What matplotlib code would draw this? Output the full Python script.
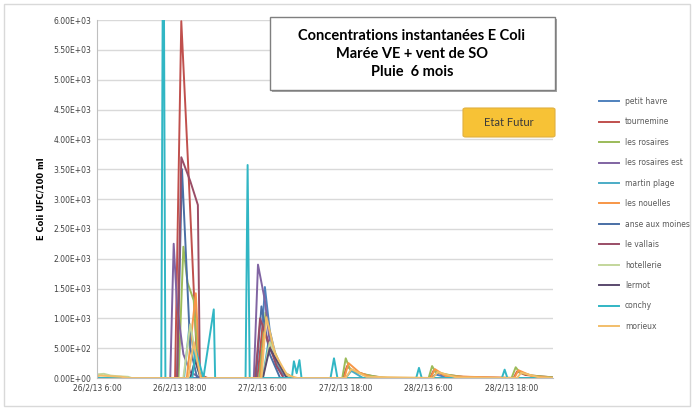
import matplotlib.pyplot as plt
from matplotlib.patches import Rectangle, FancyBboxPatch

# hours since 26/2/13 6:00, E. coli UFC/100 ml
petit_havre_t = [0, 23.5, 24.3, 25.0, 26.0, 27.0, 28.0, 48.4, 49.0, 51.0, 66]
petit_havre_v = [0, 0, 1525, 800, 300, 80, 0, 0, 60, 0, 0]

tournemine_t = [0, 11.3, 12.2, 13.3, 14.5, 15.0, 16.0, 23.2, 24.0, 25.0, 26.5, 28.0,
                35.6, 36.2, 37.0, 39.0, 41.5, 48.2, 48.7, 50.0, 53.0, 60.3, 60.8, 62.0, 66]
tournemine_v = [0, 0, 5980, 3300, 200, 50, 0, 0, 900, 500, 150, 0,
                0, 200, 120, 50, 0, 0, 120, 60, 20, 0, 110, 50, 10]

les_rosaires_t = [0, 11.8, 12.5, 13.1, 14.0, 14.6, 15.2, 23.5, 24.4, 25.5, 27.0, 28.5,
                  35.5, 36.0, 36.6, 38.0, 40.0, 42.0, 48.0, 48.5, 49.0, 51.0, 54.0,
                  60.0, 60.6, 61.2, 63.0, 66]
les_rosaires_v = [0, 0, 2200, 1600, 1300, 300, 0, 0, 1100, 500, 100, 0,
                  0, 330, 150, 80, 30, 0, 0, 200, 100, 50, 0,
                  0, 180, 90, 40, 10]

rosaires_est_t = [0, 10.6, 11.1, 11.6, 12.5, 13.5, 15.0, 22.7, 23.3, 24.3, 25.0, 26.0, 27.0, 28.0, 66]
rosaires_est_v = [0, 0, 2250, 1200, 400, 100, 0, 0, 1900, 1300, 600, 200, 50, 0, 0]

martin_plage_t = [0, 12.6, 13.4, 14.2, 15.0, 24.0, 24.8, 26.0, 27.5, 36.0, 36.8, 38.5, 66]
martin_plage_v = [0, 0, 900, 300, 0, 0, 600, 250, 0, 0, 120, 0, 0]

les_nouelles_t = [0, 13.0, 14.3, 14.8, 15.2, 23.7, 24.2, 25.5, 27.0, 28.5,
                  35.8, 36.4, 38.0, 40.0, 48.3, 48.9, 50.5, 60.4, 61.0, 63.0, 66]
les_nouelles_v = [0, 0, 1420, 200, 0, 0, 750, 400, 100, 0,
                  0, 250, 90, 0, 0, 150, 30, 0, 130, 30, 0]

anse_moines_t = [0, 11.6, 12.3, 13.5, 14.5, 23.0, 23.8, 25.0, 26.5, 66]
anse_moines_v = [0, 0, 3500, 500, 0, 0, 1200, 400, 0, 0]

le_vallais_t = [0, 11.6, 12.2, 13.5, 14.6, 14.9, 22.9, 23.6, 24.5, 26.0, 27.0, 66]
le_vallais_v = [0, 0, 3700, 3300, 2900, 0, 0, 1000, 700, 200, 0, 0]

hotellerie_t = [0, 1.0, 2.0, 3.0, 4.5, 5.0, 12.5, 13.5, 14.5, 15.5, 24.0, 25.0, 26.5, 28.0, 66]
hotellerie_v = [60, 70, 40, 30, 20, 0, 0, 900, 250, 0, 0, 600, 200, 0, 0]

lermot_t = [0, 13.5, 14.2, 15.0, 24.0, 25.0, 26.0, 27.5, 66]
lermot_v = [0, 0, 300, 0, 0, 500, 300, 0, 0]

conchy_t = [0, 9.3, 9.6, 9.9, 13.8, 14.3, 15.4, 16.9, 17.1, 21.5, 21.8, 22.1,
            28.2, 28.5, 28.9, 29.3, 29.6, 33.8, 34.3, 34.8, 46.2, 46.6, 47.0,
            58.6, 59.0, 59.4, 66]
conchy_v = [0, 0, 9000, 0, 0, 470, 0, 1150, 0, 0, 3570, 0,
            0, 280, 80, 300, 0, 0, 330, 0, 0, 170, 0,
            0, 140, 0, 0]

morieux_t = [0, 0.5, 2.0, 3.5, 4.5, 13.2, 14.0, 15.0, 23.8, 24.5, 25.8, 27.5, 29.0,
             36.0, 36.8, 39.0, 48.6, 49.3, 52.0, 60.8, 61.4, 64.0, 66]
morieux_v = [30, 40, 30, 20, 0, 0, 600, 0, 0, 1020, 400, 50, 0,
             0, 150, 20, 0, 100, 10, 0, 90, 10, 0]

series = [
    ("petit havre", petit_havre_t, petit_havre_v, "#4F81BD"),
    ("tournemine", tournemine_t, tournemine_v, "#C0504D"),
    ("les rosaires", les_rosaires_t, les_rosaires_v, "#9BBB59"),
    ("les rosaires est", rosaires_est_t, rosaires_est_v, "#8064A2"),
    ("martin plage", martin_plage_t, martin_plage_v, "#4BACC6"),
    ("les nouelles", les_nouelles_t, les_nouelles_v, "#F79646"),
    ("anse aux moines", anse_moines_t, anse_moines_v, "#4A6FA5"),
    ("le vallais", le_vallais_t, le_vallais_v, "#9A4D66"),
    ("hotellerie", hotellerie_t, hotellerie_v, "#C3D69B"),
    ("lermot", lermot_t, lermot_v, "#5A4A6E"),
    ("conchy", conchy_t, conchy_v, "#31B6C4"),
    ("morieux", morieux_t, morieux_v, "#F2BE6A"),
]

tick_hours = [0, 12, 24, 36, 48, 60]
tick_labels = ["26/2/13 6:00", "26/2/13 18:00", "27/2/13 6:00",
               "27/2/13 18:00", "28/2/13 6:00", "28/2/13 18:00"]
y_ticks = list(range(0, 6001, 500))

fig = plt.figure(figsize=(6.94, 4.09), dpi=100)
ax = fig.add_axes([97/694, 1 - 378/409, (553-97)/694, (378-20)/409])

for name, t, v, c in series:
    ax.plot(t, v, color=c, lw=1.4, label=name, clip_on=True)

ax.set_xlim(0, 66)
ax.set_ylim(0, 6000)
ax.set_yticks(y_ticks)
ax.set_yticklabels(["%.2E" % y for y in y_ticks], fontsize=5.5, color="#404040")
ax.set_xticks(tick_hours)
ax.set_xticklabels(tick_labels, fontsize=5.5, color="#404040")
ax.tick_params(length=0, pad=4)
ax.grid(axis="y", color="#D9D9D9", lw=1)
ax.set_axisbelow(True)
for s in ["top", "right"]:
    ax.spines[s].set_visible(False)
ax.spines["left"].set_color("#BFBFBF")
ax.spines["bottom"].set_color("#BFBFBF")
ax.set_ylabel("E Coli UFC/100 ml", fontsize=6, fontweight="bold", labelpad=6)

# legend on the right
fig.legend(loc="upper left", bbox_to_anchor=(592/694, 1 - 90/409), frameon=False,
           fontsize=5.5, handlelength=2.6, labelspacing=1.5, labelcolor="#595959")

# title box
fig.patches.append(Rectangle((272/694, 1 - 92/409), 285/694, 73/409, transform=fig.transFigure,
                             facecolor="#A6A6A6", edgecolor="none", zorder=4))
fig.patches.append(Rectangle((270/694, 1 - 90/409), 285/694, 73/409, transform=fig.transFigure,
                             facecolor="white", edgecolor="#7F7F7F", lw=1, zorder=5))
fig.text(412/694, 1 - 54/409, "Concentrations instantanées E Coli\nMarée VE + vent de SO\nPluie  6 mois",
         ha="center", va="center", fontsize=10.5, fontweight="bold", family="Lato",
         linespacing=1.35, zorder=6)

# Etat Futur box
fig.patches.append(FancyBboxPatch((463/694, 1 - 137/409), 92/694, 29/409,
                                  boxstyle="round,pad=0,rounding_size=0.004",
                                  transform=fig.transFigure, facecolor="#F7C236",
                                  edgecolor="#E0B040", lw=0.8, zorder=5))
fig.text(509/694, 1 - 122/409, "Etat Futur", ha="center", va="center",
         fontsize=8, family="Lato", color="#3A3A3A", zorder=6)

# chart area border
fig.patches.append(Rectangle((4/694, 3/409), 686/694, 402/409, transform=fig.transFigure,
                             facecolor="none", edgecolor="#D9D9D9", lw=1))

fig.savefig("out.png", dpi=100)
